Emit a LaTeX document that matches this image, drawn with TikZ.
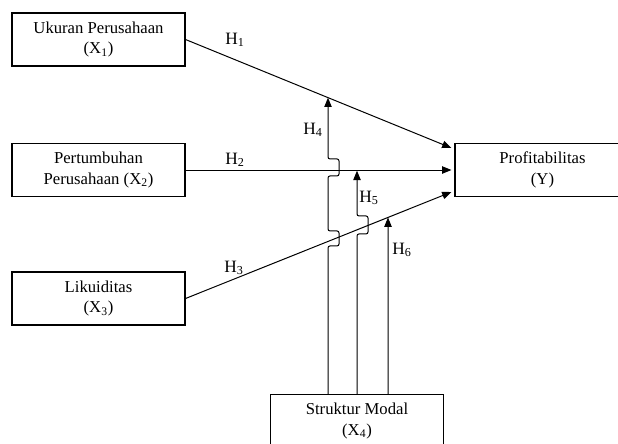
\documentclass[tikz,border=0pt]{standalone}
\usepackage{fontspec}
\setmainfont{Liberation Serif}
\usetikzlibrary{arrows.meta,calc,intersections}

\tikzset{
  varbox/.style={draw, line width=0.8pt, minimum width=129.75pt, minimum height=39.75pt,
    align=center, font=\fontsize{12.5}{15.5}\selectfont, inner sep=0pt},
  hlabel/.style={font=\fontsize{13}{14}\selectfont, inner sep=0pt},
  arr/.style={line width=0.75pt, -{Triangle[length=7pt,width=5.5pt]}}
}

\begin{document}
\begin{tikzpicture}[x=0.75pt, y=-0.75pt]
\clip (0,0) rectangle (618,443);
\node[varbox] (ukuran) at (98.5,39.5) {Ukuran Perusahaan\\(X\textsubscript{1})};
\node[varbox] (tumbuh) at (98.5,170) {Pertumbuhan\\Perusahaan (X\textsubscript{2})};
\node[varbox] (likuid) at (98.5,298.5) {Likuiditas\\(X\textsubscript{3})};
\node[varbox, minimum width=131.25pt] (profit) at (542.5,170) {Profitabilitas\\(Y)};
\node[varbox, minimum width=130pt] (struk) at (357,421) {Struktur Modal\\(X\textsubscript{4})};

% direct effects
\draw[arr, name path=h1] (ukuran.east) -- ([xshift=-2.25pt,yshift=16.5pt]profit.west);
\draw[arr] (tumbuh.east) -- ([xshift=-2.25pt]profit.west);
\draw[arr, name path=h3] (likuid.east) -- ([xshift=-2.25pt,yshift=-16.5pt]profit.west);
\node[hlabel] (lh1) at (235,40) {H\textsubscript{1}};
\node[hlabel] (lh2) at (235,160) {H\textsubscript{2}};
\node[hlabel] (lh3) at (234,268) {H\textsubscript{3}};

% moderating effects
\path[name path=v4] ($(struk.north)+(-29,0)$) -- ++(0,-400);
\path[name path=v6] ($(struk.north)+(31,0)$) -- ++(0,-400);
\path[name intersections={of=h1 and v4, by=e4}];
\path[name intersections={of=h3 and v6, by=e6}];
\draw[arr, rounded corners=1.5pt] ($(struk.north)+(-29,0)$) -- ++(0,-148) -- ++(11,0) -- ++(0,-15)
  -- ++(-11,0) -- ++(0,-55) -- ++(11,0) -- ++(0,-17) -- ++(-11,0) -- (e4);
\draw[arr, rounded corners=1.5pt] (struk.north) -- ++(0,-160) -- ++(11,0) -- ++(0,-18)
  -- ++(-11,0) -- ([yshift=-0.5pt]struk.north |- tumbuh.east);
\draw[arr] ($(struk.north)+(31,0)$) -- (e6);
\node[hlabel] (lh4) at (313,130) {H\textsubscript{4}};
\node[hlabel] (lh5) at (369,198) {H\textsubscript{5}};
\node[hlabel] (lh6) at (402,250) {H\textsubscript{6}};
\end{tikzpicture}
\end{document}
